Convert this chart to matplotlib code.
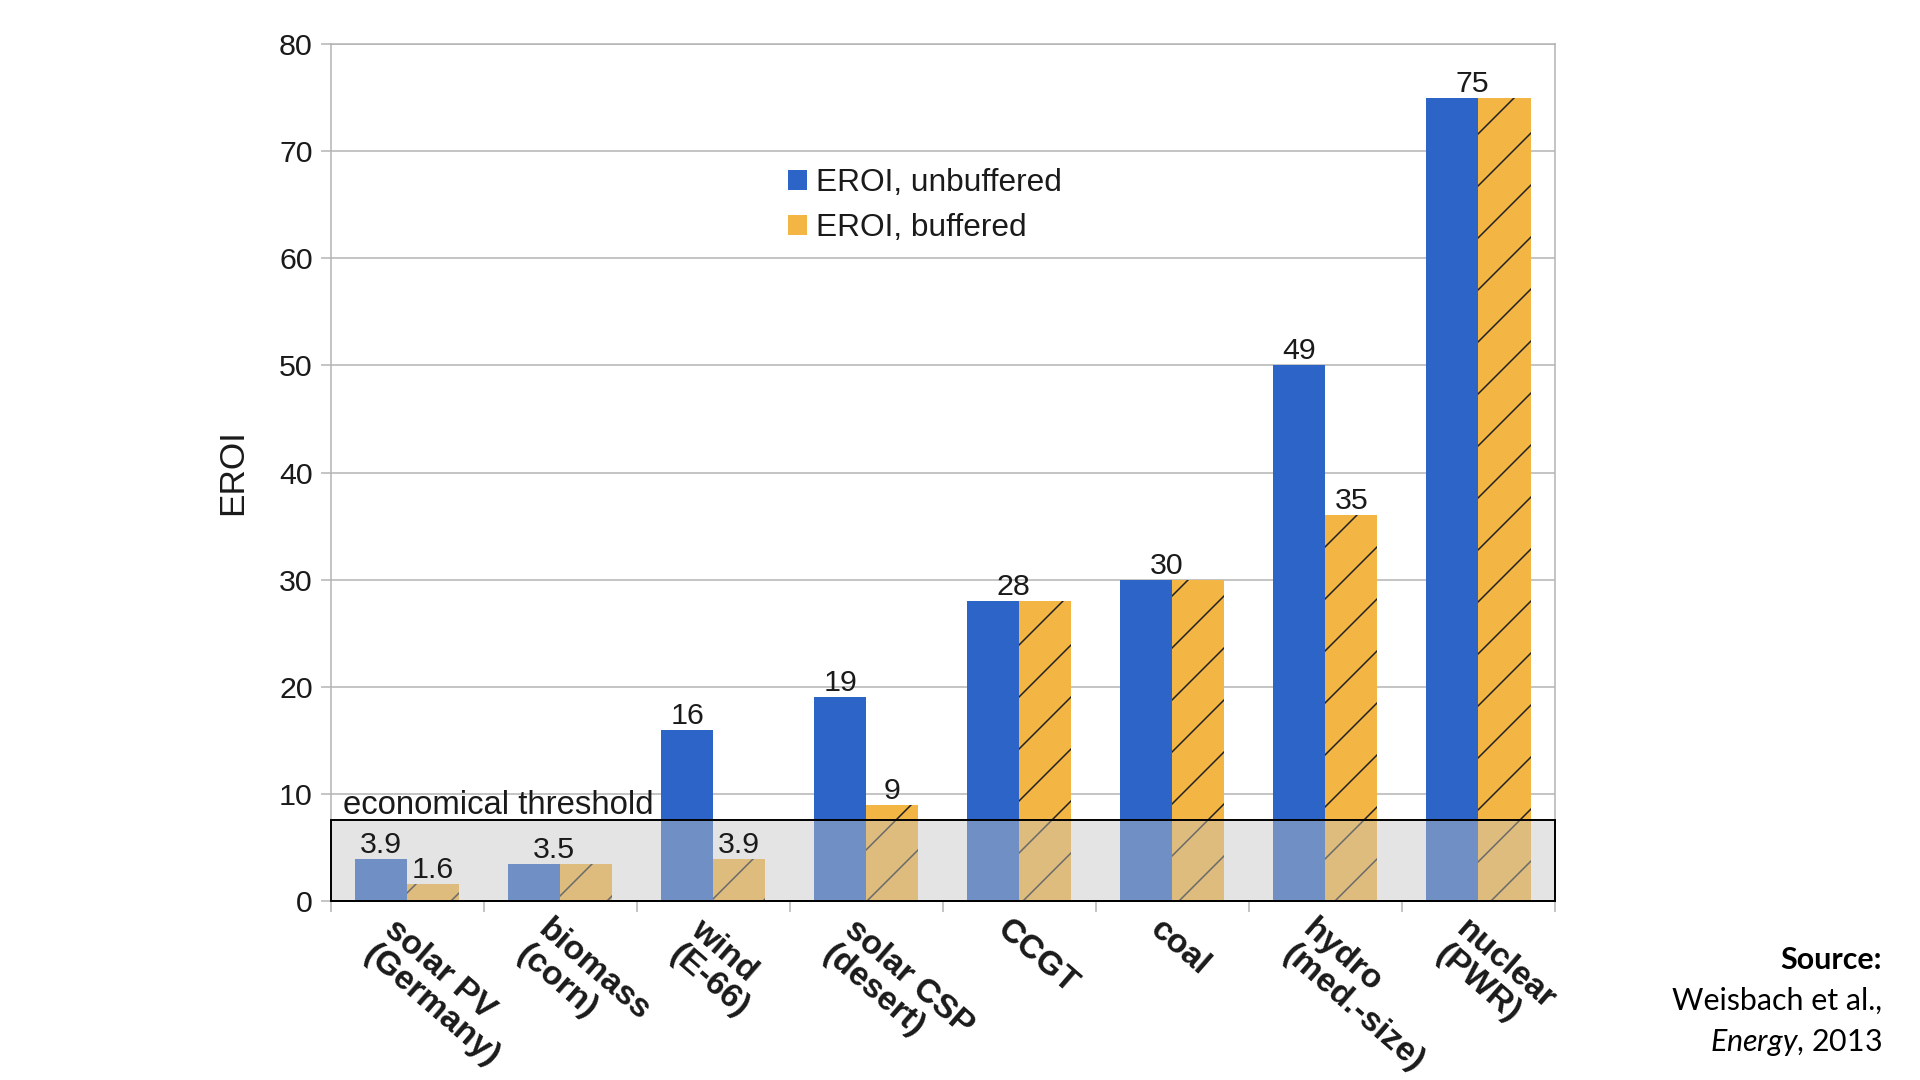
import numpy as np
import matplotlib.pyplot as plt
import matplotlib.transforms as mtransforms
from matplotlib.patches import Patch

# EROI values (Weisbach et al., Energy, 2013)
categories = ['solar PV\n(Germany)', 'biomass\n(corn)', 'wind\n(E-66)', 'solar CSP\n(desert)',
              'CCGT', 'coal', 'hydro\n(med.-size)', 'nuclear\n(PWR)']
unbuffered = [3.9, 3.5, 16, 19, 28, 30, 50, 75]
buffered = [1.6, 3.5, 3.9, 9, 28, 30, 36, 75]
# printed labels: over the blue bar, over the orange bar, or once over the pair
unbuffered_labels = ['3.9', '', '16', '19', '', '', '49', '']
buffered_labels = ['1.6', '', '3.9', '9', '', '', '35', '']
shared_labels = ['', '3.5', '', '', '28', '30', '', '75']
threshold = 7.6

BLUE = '#2c64c7'
ORANGE = '#f3b644'
GRID = '#b3b3b3'

DPI = 312  # hatch spacing scales with dpi
plt.rcParams['font.family'] = ['Liberation Sans', 'DejaVu Sans']
plt.rcParams['hatch.linewidth'] = 0.35
plt.rcParams['mathtext.fontset'] = 'custom'
plt.rcParams['mathtext.rm'] = 'Lato'
plt.rcParams['mathtext.it'] = 'Lato:italic'

fig = plt.figure(figsize=(1920 / DPI, 1080 / DPI), dpi=DPI)
ax = fig.add_axes([0.1722, 0.1657, 0.6377, 0.7936])

x = np.arange(len(categories))
w = 0.34
ax.bar(x - w / 2, unbuffered, w, color=BLUE, linewidth=0, zorder=2)
ax.bar(x + w / 2, buffered, w, color=ORANGE, hatch='//', edgecolor='#222222', linewidth=0, zorder=2)

# value labels
for i in range(len(categories)):
    if unbuffered_labels[i]:
        ax.annotate(unbuffered_labels[i], (x[i] - w / 2, unbuffered[i]), xytext=(0, 0),
                    textcoords='offset points', ha='center', va='bottom', fontsize=7, color='#1a1a1a', zorder=5)
    if buffered_labels[i]:
        ax.annotate(buffered_labels[i], (x[i] + w / 2, buffered[i]), xytext=(0, 0),
                    textcoords='offset points', ha='center', va='bottom', fontsize=7, color='#1a1a1a', zorder=5)
    if shared_labels[i]:
        top = max(unbuffered[i], buffered[i])
        ax.annotate(shared_labels[i], (x[i] - 0.04, top), xytext=(0, 0),
                    textcoords='offset points', ha='center', va='bottom', fontsize=7, color='#1a1a1a', zorder=5)

# economical threshold band
ax.axhspan(0, threshold, facecolor=(0.77, 0.77, 0.77, 0.45), edgecolor='black', linewidth=0.45,
           zorder=3, clip_on=False)
ax.annotate('economical threshold', (-0.42, threshold), xytext=(0, -0.3), textcoords='offset points',
            ha='left', va='bottom', fontsize=7.6, color='#1a1a1a', zorder=5)

ax.set_xlim(-0.5, len(categories) - 0.5)
ax.set_ylim(0, 80)
ax.set_yticks(range(0, 81, 10))
ax.yaxis.grid(True, color=GRID, linewidth=0.35)
ax.set_axisbelow(True)
ax.tick_params(axis='y', length=2.3, width=0.35, color=GRID, pad=1.8, labelsize=7, labelcolor='#1a1a1a')

# ticks between categories, labels at the centres
ax.set_xticks(np.arange(-0.5, len(categories), 1.0))
ax.set_xticklabels([])
ax.tick_params(axis='x', which='major', length=2.5, width=0.35, color=GRID)
ax.set_xticks(x, minor=True)
ax.set_xticklabels(categories, minor=True, rotation=-41, ha='left', va='top',
                   rotation_mode='anchor', fontsize=7.8, fontweight='bold', color='#1a1a1a',
                   linespacing=1.05)
ax.tick_params(axis='x', which='minor', length=0, pad=3)
shift = mtransforms.ScaledTranslation(-8 / DPI, 0, fig.dpi_scale_trans)
for lbl in ax.get_xticklabels(minor=True):
    lbl.set_transform(lbl.get_transform() + shift)

for side in ['left', 'right', 'top']:
    ax.spines[side].set_color(GRID)
    ax.spines[side].set_linewidth(0.35)
ax.spines['bottom'].set_color('black')
ax.spines['bottom'].set_linewidth(0.45)

ax.set_ylabel('EROI', fontsize=8.1, color='#1a1a1a')
ax.yaxis.set_label_coords(-82 / 1224.4, 0.5)

handles = [Patch(facecolor=BLUE, label='EROI, unbuffered'),
           Patch(facecolor=ORANGE, label='EROI, buffered')]
fig.legend(handles=handles, loc='upper left', bbox_to_anchor=(788 / 1920, 1 - 168 / 1080),
           frameon=False, fontsize=7.3, handlelength=0.6, handleheight=0.6,
           handletextpad=0.3, labelspacing=0.48, borderpad=0, borderaxespad=0,
           labelcolor='#1a1a1a')

# source note
fig.text(1882 / 1920, 1 - 960 / 1080, 'Source:', ha='right', va='center', fontsize=7,
         family='Lato', fontweight='bold', color='black')
fig.text(1882 / 1920, 1 - 1001 / 1080, 'Weisbach et al.,', ha='right', va='center', fontsize=7,
         family='Lato', color='black')
fig.text(1882 / 1920, 1 - 1042 / 1080, r'$\mathit{Energy}$, 2013', ha='right', va='center', fontsize=7,
         family='Lato', color='black')

fig.savefig('out.png', dpi=DPI)
